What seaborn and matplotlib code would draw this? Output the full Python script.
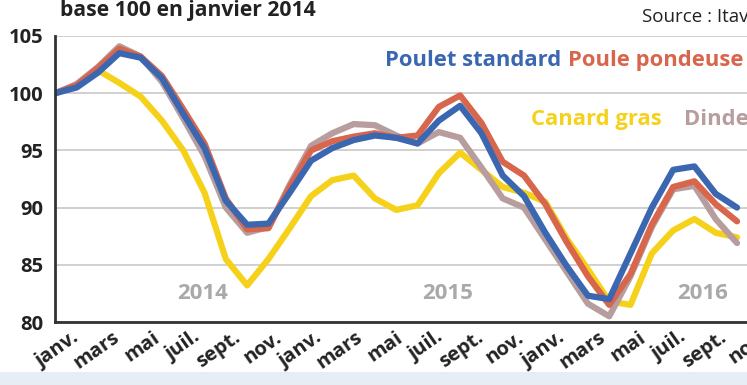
import numpy as np
import pandas as pd
import matplotlib
matplotlib.use("Agg")
import matplotlib.pyplot as plt
from matplotlib.patches import Rectangle
import seaborn as sns

# -----------------------------
# Data (indice base 100 en janvier 2014), janv. 2014 -> sept. 2016
# -----------------------------
tick_labels = ["janv.", "mars", "mai", "juil.", "sept.", "nov."] * 3
years = ["2014", "2015", "2016"]

poulet_standard = [100, 100.5, 101.8, 103.5, 103.1, 101.3, 98.2, 95.2, 90.6, 88.5, 88.6,
                   91.3, 94.1, 95.2, 95.9, 96.3, 96.1, 95.6, 97.6, 98.9, 96.5, 92.8, 91.0,
                   87.8, 84.9, 82.3, 82.0, 86.0, 90.0, 93.3, 93.6, 91.2, 90.0]
poule_pondeuse = [100, 100.7, 102.2, 103.9, 103.2, 101.5, 98.6, 95.6, 90.8, 88.1, 88.2,
                  91.8, 95.0, 95.8, 96.2, 96.5, 96.1, 96.3, 98.8, 99.8, 97.4, 94.0, 92.8,
                  90.3, 87.0, 84.0, 81.5, 84.2, 88.5, 91.8, 92.3, 90.3, 88.8]
dinde = [100, 100.8, 102.3, 104.1, 103.2, 101.0, 97.8, 94.5, 90.0, 87.8, 88.3,
         92.0, 95.4, 96.5, 97.3, 97.2, 96.3, 95.6, 96.6, 96.1, 93.5, 90.8, 90.0,
         87.2, 84.4, 81.6, 80.5, 84.0, 88.3, 91.6, 91.9, 89.0, 86.9]
canard_gras = [100, 100.6, 102.0, 100.9, 99.7, 97.6, 95.0, 91.3, 85.5, 83.2, 85.5,
               88.2, 91.0, 92.4, 92.8, 90.8, 89.8, 90.2, 93.0, 94.8, 93.3, 91.8, 91.3,
               90.5, 87.3, 84.6, 81.8, 81.5, 86.0, 88.0, 89.0, 87.8, 87.4]

colors = {
    "Canard gras": "#f6d11a",
    "Dinde": "#b89d9f",
    "Poule pondeuse": "#d8664c",
    "Poulet standard": "#3b66b0",
}

df = pd.DataFrame({
    "mois": np.arange(len(poulet_standard)),
    "Canard gras": canard_gras,
    "Dinde": dinde,
    "Poule pondeuse": poule_pondeuse,
    "Poulet standard": poulet_standard,
})
long_df = df.melt(id_vars="mois", var_name="serie", value_name="indice")

# -----------------------------
# Style
# -----------------------------
sns.set_style("white")
plt.rcParams["font.family"] = ["Open Sans", "DejaVu Sans"]

fig = plt.figure(figsize=(7.47, 3.85), dpi=100)
# the plot area runs past the right edge of the picture (cropped like the original)
ax = fig.add_axes([0.0742, 0.1636, 34 * 21.3 / 747, 0.743])

# bottom band
fig.patches.append(Rectangle((0, 0), 1, 0.034, transform=fig.transFigure,
                             facecolor="#e7edf5", edgecolor="none", zorder=0))

sns.lineplot(data=long_df, x="mois", y="indice", hue="serie",
             hue_order=list(colors.keys()), palette=colors,
             linewidth=4.5, legend=False, ax=ax)
for ln in ax.lines:
    ln.set_solid_capstyle("round")
    ln.set_solid_joinstyle("round")

ax.set_xlim(0, 34)
ax.set_ylim(80, 105)
ax.set_yticks([80, 85, 90, 95, 100, 105])
ax.yaxis.grid(True, color="#cdcdcd", linewidth=1.3)
ax.set_axisbelow(True)
ax.set_xlabel("")
ax.set_ylabel("")

for s in ["top", "right"]:
    ax.spines[s].set_visible(False)
for s in ["left", "bottom"]:
    ax.spines[s].set_color("#333333")
    ax.spines[s].set_linewidth(2)

# monthly tick marks, labels every two months (placed as in the original graphic)
ax.set_xticks(np.arange(35))
ax.set_xticklabels([])
label_pos = 0.75 + 1.9 * np.arange(len(tick_labels))
ax.set_xticks(label_pos, minor=True)
ax.set_xticklabels(tick_labels, minor=True)
ax.tick_params(axis="x", which="major", direction="in", length=4.5, width=1.5,
               color="#333333")
ax.tick_params(axis="x", which="minor", length=0, pad=4, labelsize=14.5,
               labelcolor="#222222")
ax.tick_params(axis="y", direction="in", length=12, width=2, color="#333333",
               pad=8.5, labelsize=14.5, labelcolor="#222222")
for lab in ax.get_xticklabels(minor=True):
    lab.set_rotation(35)
    lab.set_ha("right")
    lab.set_va("top")
    lab.set_rotation_mode("anchor")
    lab.set_fontweight("bold")
for lab in ax.get_yticklabels():
    lab.set_fontweight("bold")

# year labels
for yr, xpos in zip(years, [6.9, 18.4, 30.4]):
    ax.text(xpos, 82.5, yr, color="#a9a9a9", fontsize=16, fontweight="bold",
            ha="center", va="center")

# series names
ax.text(15.47, 102.4, "Poulet standard", color=colors["Poulet standard"],
        fontsize=15.8, fontweight="bold", ha="left", va="baseline")
ax.text(24.06, 102.4, "Poule pondeuse", color=colors["Poule pondeuse"],
        fontsize=15.8, fontweight="bold", ha="left", va="baseline")
ax.text(22.33, 97.2, "Canard gras", color=colors["Canard gras"],
        fontsize=15.8, fontweight="bold", ha="left", va="baseline")
ax.text(29.5, 97.2, "Dinde", color=colors["Dinde"],
        fontsize=15.8, fontweight="bold", ha="left", va="baseline")

fig.text(0.08, 0.958, "base 100 en janvier 2014", fontsize=15.2, fontweight="bold",
         color="#222222", ha="left", va="baseline")
fig.text(0.859, 0.943, "Source : Itavi", fontsize=13.5, color="#222222",
         ha="left", va="baseline")

fig.savefig("out.png", dpi=100)
